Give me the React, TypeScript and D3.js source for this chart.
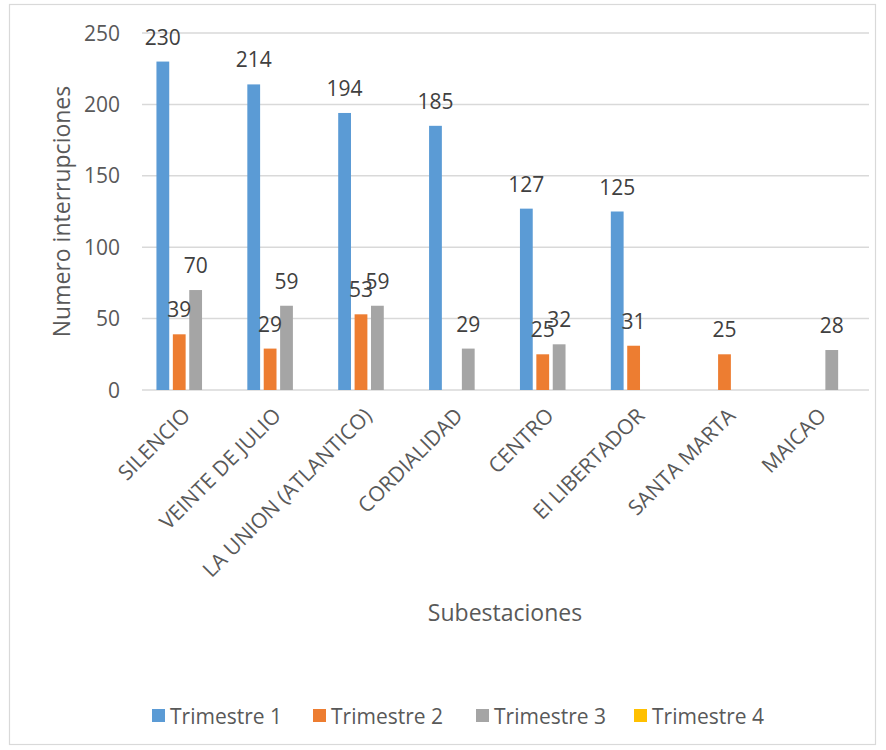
import React from "react";
import * as d3 from "d3";

const categories = [
  "SILENCIO",
  "VEINTE DE JULIO",
  "LA UNION (ATLANTICO)",
  "CORDIALIDAD",
  "CENTRO",
  "El LIBERTADOR",
  "SANTA MARTA",
  "MAICAO",
];
const seriesNames = ["Trimestre 1", "Trimestre 2", "Trimestre 3", "Trimestre 4"];
const trimestre1: (number | null)[] = [230, 214, 194, 185, 127, 125, null, null];
const trimestre2: (number | null)[] = [39, 29, 53, null, 25, 31, 25, null];
const trimestre3: (number | null)[] = [70, 59, 59, 29, 32, null, null, 28];
const trimestre4: (number | null)[] = [null, null, null, null, null, null, null, null];
const yTicks = [0, 50, 100, 150, 200, 250];
const colors = ["#5B9BD5", "#ED7D31", "#A5A5A5", "#FFC000"];

const W = 886;
const H = 750;
const plot = { left: 142, right: 869, top: 33, bottom: 390 };
const FONT = "'Open Sans', 'Noto Sans', sans-serif";
const TEXT = "#595959";

export default function App() {
  const series = [trimestre1, trimestre2, trimestre3, trimestre4];
  const x = d3.scaleBand<string>().domain(categories).range([plot.left, plot.right]).paddingInner(0.318).paddingOuter(0.159);
  const xi = d3.scaleBand<string>().domain(seriesNames).range([0, x.bandwidth()]).paddingInner(0.22);
  const y = d3.scaleLinear().domain([0, 250]).range([plot.bottom, plot.top]);

  const legendX = [152, 313, 476, 634];

  return (
    <svg width={W} height={H} style={{ position: "absolute", left: 0, top: 0, background: "#fff" }} fontFamily={FONT}>
      <rect x={9.5} y={4.5} width={866} height={740} fill="#fff" stroke="#d9d9d9" strokeWidth={1.2} />
      {yTicks.map((t) => (
        <g key={t}>
          <line x1={plot.left} x2={plot.right} y1={y(t)} y2={y(t)} stroke="#d9d9d9" strokeWidth={1.5} />
          <text x={120} y={y(t) + 7.5} textAnchor="end" fontSize={21} fill={TEXT}>
            {t}
          </text>
        </g>
      ))}
      {series.map((vals, si) =>
        vals.map((v, ci) =>
          v == null ? null : (
            <rect
              key={`b${si}-${ci}`}
              x={(x(categories[ci]) as number) + (xi(seriesNames[si]) as number)}
              y={y(v)}
              width={xi.bandwidth()}
              height={y(0) - y(v)}
              fill={colors[si]}
            />
          )
        )
      )}
      {series.map((vals, si) =>
        vals.map((v, ci) =>
          v == null ? null : (
            <text
              key={`l${si}-${ci}`}
              x={(x(categories[ci]) as number) + (xi(seriesNames[si]) as number) + xi.bandwidth() / 2}
              y={y(v) - 17}
              textAnchor="middle"
              fontSize={21}
              fill="#404040"
            >
              {v}
            </text>
          )
        )
      )}
      {categories.map((c) => {
        const cx = (x(c) as number) + x.bandwidth() / 2;
        return (
          <text
            key={c}
            transform={`translate(${cx + 4},${plot.bottom + 27}) rotate(-45)`}
            textAnchor="end"
            fontSize={21}
            fill={TEXT}
          >
            {c}
          </text>
        );
      })}
      <text x={505} y={621} textAnchor="middle" fontSize={23} fill={TEXT}>
        Subestaciones
      </text>
      <text transform={`translate(70,${(plot.top + plot.bottom) / 2}) rotate(-90)`} textAnchor="middle" fontSize={23} fill={TEXT}>
        Numero interrupciones
      </text>
      {seriesNames.map((s, i) => (
        <g key={s}>
          <rect x={legendX[i]} y={709} width={13} height={13} fill={colors[i]} />
          <text x={legendX[i] + 18} y={724} fontSize={21} fill={TEXT}>
            {s}
          </text>
        </g>
      ))}
    </svg>
  );
}
